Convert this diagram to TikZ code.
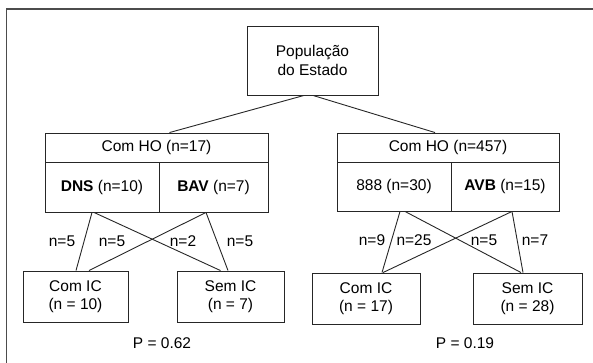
\documentclass[tikz,border=0pt]{standalone}
\usepackage{fontspec}
\setmainfont{Liberation Sans}
\begin{document}
\begin{tikzpicture}[x=1pt,y=-1pt,
  every node/.style={font=\fontsize{15.5}{18.5}\selectfont, inner sep=0pt},
  box/.style={draw=black!85, line width=0.9pt, align=center},
  link/.style={draw=black!85, line width=0.9pt},
  frame/.style={draw=black!70, line width=1.3pt},
  count/.style={}]
\useasboundingbox (0,0) rectangle (593,363);

% outer frame (open to the right and bottom)
\coordinate (fbl) at (6.5,363);
\coordinate (ftl) at (6.5,9);
\coordinate (ftr) at (593,9);
\draw[frame] (fbl) -- (ftl) -- (ftr);

% root
\node[box, minimum width=131pt, minimum height=69pt] (pop) at (312.5,60.5)
  {População\\do Estado};

% left group
\node[box, minimum width=223pt, minimum height=29pt] (ho1) at (156.5,147.5) {Com HO (n=17)};
\node[box, minimum width=114pt, minimum height=50pt] (dns) at (102,187) {\textbf{DNS} (n=10)};
\node[box, minimum width=109pt, minimum height=50pt] (bav) at (213.5,187) {\textbf{BAV} (n=7)};

% right group
\node[box, minimum width=222pt, minimum height=29pt] (ho2) at (448,147.5) {Com HO (n=457)};
\node[box, minimum width=114pt, minimum height=49pt] (c888) at (394,186.5) {888 (n=30)};
\node[box, minimum width=108pt, minimum height=49pt] (avb) at (505,186.5) {\textbf{AVB} (n=15)};

% outcome boxes
\node[box, minimum width=105pt, minimum height=51pt] (ci1) at (75.5,296.5) {Com IC\\(n = 10)};
\node[box, minimum width=107pt, minimum height=51pt] (si1) at (230.5,296.5) {Sem IC\\(n = 7)};
\node[box, minimum width=108pt, minimum height=51pt] (ci2) at (366,298.5) {Com IC\\(n = 17)};
\node[box, minimum width=109pt, minimum height=51pt] (si2) at (527.5,298.5) {Sem IC\\(n = 28)};

% root to groups
\draw[link] ([xshift=-8.5pt]pop.south) -- ([xshift=13pt]ho1.north);
\draw[link] ([xshift=0.5pt]pop.south) -- ([xshift=-13pt]ho2.north);

% left group to outcomes
\draw[link] ([xshift=-10pt]dns.south) -- ([xshift=0.5pt]ci1.north);
\draw[link] ([xshift=-8pt]dns.south) -- ([xshift=-10pt]si1.north);
\draw[link] ([xshift=-7.5pt]bav.south) -- ([xshift=13.5pt]ci1.north);
\draw[link] ([xshift=-7.5pt]bav.south) -- ([xshift=-2.5pt]si1.north);

% right group to outcomes
\draw[link] ([xshift=6pt]c888.south) -- ([xshift=16pt]ci2.north);
\draw[link] ([xshift=11pt]c888.south) -- ([xshift=-6.5pt]si2.north);
\draw[link] ([xshift=7pt]avb.south) -- ([xshift=17pt]ci2.north);
\draw[link] ([xshift=7pt]avb.south) -- ([xshift=-4.5pt]si2.north);

% branch counts
\node[count] (l1) at (62,241) {n=5};
\node[count] (l2) at (112,241) {n=5};
\node[count] (l3) at (183,241) {n=2};
\node[count] (l4) at (240,241) {n=5};
\node[count] (r1) at (372,240) {n=9};
\node[count] (r2) at (414,240) {n=25};
\node[count] (r3) at (484,240) {n=5};
\node[count] (r4) at (535,240) {n=7};

% p-values
\node (p1) at (162,343) {P = 0.62};
\node (p2) at (465,343) {P = 0.19};
\end{tikzpicture}
\end{document}
